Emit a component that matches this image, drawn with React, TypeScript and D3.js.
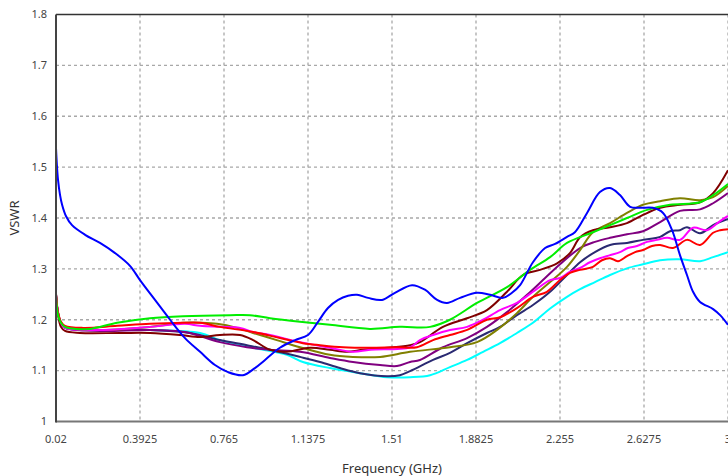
import React from "react";
import * as d3 from "d3";

const xTicks = [0.02, 0.3925, 0.765, 1.1375, 1.51, 1.8825, 2.255, 2.6275, 3];
const xTickLabels = ["0.02", "0.3925", "0.765", "1.1375", "1.51", "1.8825", "2.255", "2.6275", "3"];
const yTicks = [1, 1.1, 1.2, 1.3, 1.4, 1.5, 1.6, 1.7, 1.8];
const yTickLabels = ["1", "1.1", "1.2", "1.3", "1.4", "1.5", "1.6", "1.7", "1.8"];

type P = [number, number];

const blue: P[] = [
  [0.02, 1.538], [0.024, 1.504], [0.029, 1.475], [0.038, 1.445], [0.047, 1.426], [0.064, 1.404],
  [0.091, 1.386], [0.149, 1.367], [0.215, 1.351], [0.282, 1.331], [0.348, 1.306], [0.3925, 1.278],
  [0.459, 1.239], [0.526, 1.2], [0.592, 1.164], [0.659, 1.137], [0.725, 1.111], [0.783, 1.097],
  [0.849, 1.091], [0.902, 1.105], [0.947, 1.121], [1.013, 1.145], [1.08, 1.16], [1.1375, 1.17],
  [1.182, 1.196], [1.226, 1.223], [1.271, 1.239], [1.315, 1.247], [1.355, 1.249], [1.404, 1.243],
  [1.466, 1.239], [1.523, 1.253], [1.599, 1.268], [1.656, 1.259], [1.71, 1.239], [1.754, 1.233],
  [1.812, 1.243], [1.887, 1.253], [1.945, 1.249], [2.002, 1.243], [2.042, 1.253], [2.078, 1.268],
  [2.135, 1.313], [2.189, 1.341], [2.233, 1.349], [2.286, 1.363], [2.321, 1.372], [2.375, 1.41],
  [2.432, 1.451], [2.477, 1.459], [2.521, 1.445], [2.566, 1.422], [2.61, 1.42], [2.667, 1.42],
  [2.712, 1.41], [2.752, 1.376], [2.787, 1.327], [2.818, 1.288], [2.845, 1.255], [2.876, 1.235],
  [2.934, 1.221], [2.965, 1.209], [3.0, 1.19],
];

const green: P[] = [
  [0.02, 1.247], [0.029, 1.209], [0.042, 1.194], [0.06, 1.186], [0.104, 1.182], [0.171, 1.182],
  [0.291, 1.194], [0.437, 1.203], [0.583, 1.207], [0.792, 1.209], [0.88, 1.209], [0.969, 1.203],
  [1.102, 1.196], [1.235, 1.19], [1.412, 1.182], [1.545, 1.186], [1.679, 1.186], [1.767, 1.2],
  [1.887, 1.233], [2.02, 1.264], [2.122, 1.298], [2.211, 1.323], [2.286, 1.351], [2.401, 1.372],
  [2.552, 1.4], [2.641, 1.416], [2.743, 1.426], [2.876, 1.431], [2.934, 1.445], [3.0, 1.467],
];

const red: P[] = [
  [0.02, 1.249], [0.029, 1.215], [0.042, 1.196], [0.06, 1.188], [0.14, 1.184], [0.291, 1.188],
  [0.437, 1.192], [0.583, 1.194], [0.659, 1.194], [0.747, 1.186], [0.894, 1.176], [1.013, 1.164],
  [1.115, 1.154], [1.191, 1.15], [1.293, 1.146], [1.412, 1.145], [1.532, 1.146], [1.621, 1.146],
  [1.692, 1.16], [1.767, 1.17], [1.843, 1.18], [1.931, 1.2], [1.989, 1.205], [2.064, 1.223],
  [2.135, 1.245], [2.197, 1.255], [2.255, 1.278], [2.299, 1.292], [2.344, 1.298], [2.401, 1.304],
  [2.441, 1.317], [2.477, 1.321], [2.512, 1.315], [2.552, 1.325], [2.588, 1.333], [2.623, 1.337],
  [2.663, 1.345], [2.699, 1.347], [2.756, 1.341], [2.818, 1.357], [2.876, 1.347], [2.934, 1.371],
  [2.965, 1.376], [3.0, 1.378],
];

const magenta: P[] = [
  [0.02, 1.249], [0.029, 1.213], [0.042, 1.194], [0.06, 1.184], [0.215, 1.18], [0.437, 1.186],
  [0.592, 1.192], [0.659, 1.188], [0.747, 1.186], [0.836, 1.184], [0.894, 1.176], [0.969, 1.17],
  [1.102, 1.156], [1.235, 1.145], [1.337, 1.137], [1.412, 1.141], [1.59, 1.146], [1.634, 1.16],
  [1.692, 1.17], [1.767, 1.18], [1.843, 1.186], [1.914, 1.2], [1.989, 1.219], [2.064, 1.233],
  [2.135, 1.255], [2.211, 1.278], [2.255, 1.282], [2.299, 1.294], [2.344, 1.302], [2.388, 1.313],
  [2.432, 1.321], [2.477, 1.327], [2.521, 1.333], [2.556, 1.341], [2.596, 1.345], [2.641, 1.353],
  [2.685, 1.357], [2.73, 1.361], [2.787, 1.357], [2.845, 1.381], [2.907, 1.376], [2.965, 1.394],
  [3.0, 1.404],
];

const olive: P[] = [
  [0.02, 1.249], [0.029, 1.213], [0.042, 1.194], [0.06, 1.186], [0.215, 1.18], [0.437, 1.186],
  [0.583, 1.194], [0.659, 1.194], [0.734, 1.192], [0.823, 1.184], [0.894, 1.174], [0.999, 1.16],
  [1.102, 1.146], [1.235, 1.131], [1.337, 1.127], [1.457, 1.127], [1.59, 1.137], [1.767, 1.146],
  [1.887, 1.156], [1.976, 1.18], [2.064, 1.213], [2.135, 1.245], [2.211, 1.274], [2.286, 1.304],
  [2.344, 1.337], [2.401, 1.372], [2.477, 1.39], [2.552, 1.41], [2.623, 1.426], [2.699, 1.433],
  [2.787, 1.439], [2.876, 1.435], [2.934, 1.441], [3.0, 1.463],
];

const maroon: P[] = [
  [0.02, 1.252], [0.029, 1.209], [0.042, 1.186], [0.06, 1.178], [0.126, 1.174], [0.304, 1.174],
  [0.437, 1.174], [0.57, 1.17], [0.659, 1.166], [0.747, 1.17], [0.836, 1.17], [0.894, 1.16],
  [0.969, 1.141], [1.044, 1.137], [1.146, 1.145], [1.235, 1.141], [1.311, 1.137], [1.382, 1.141],
  [1.488, 1.145], [1.59, 1.15], [1.634, 1.156], [1.736, 1.186], [1.843, 1.203], [1.931, 1.219],
  [2.02, 1.255], [2.091, 1.288], [2.166, 1.298], [2.242, 1.311], [2.299, 1.331], [2.344, 1.362],
  [2.401, 1.376], [2.477, 1.382], [2.552, 1.39], [2.623, 1.406], [2.699, 1.42], [2.787, 1.426],
  [2.876, 1.431], [2.934, 1.449], [3.0, 1.494],
];

const purple: P[] = [
  [0.02, 1.249], [0.029, 1.213], [0.042, 1.194], [0.06, 1.184], [0.215, 1.178], [0.437, 1.18],
  [0.592, 1.176], [0.659, 1.168], [0.747, 1.156], [0.867, 1.146], [0.969, 1.141], [1.102, 1.137],
  [1.235, 1.125], [1.337, 1.117], [1.457, 1.111], [1.532, 1.109], [1.59, 1.117], [1.634, 1.121],
  [1.736, 1.146], [1.843, 1.164], [1.931, 1.186], [2.02, 1.215], [2.109, 1.249], [2.189, 1.282],
  [2.255, 1.309], [2.344, 1.341], [2.41, 1.353], [2.477, 1.361], [2.552, 1.368], [2.623, 1.374],
  [2.699, 1.392], [2.787, 1.414], [2.876, 1.417], [2.934, 1.429], [3.0, 1.449],
];

const navy: P[] = [
  [0.02, 1.249], [0.029, 1.213], [0.042, 1.194], [0.06, 1.184], [0.215, 1.18], [0.437, 1.18],
  [0.614, 1.174], [0.747, 1.16], [0.867, 1.15], [0.969, 1.141], [1.102, 1.127], [1.191, 1.117],
  [1.279, 1.105], [1.368, 1.095], [1.488, 1.089], [1.545, 1.091], [1.59, 1.099], [1.692, 1.121],
  [1.767, 1.135], [1.843, 1.154], [1.931, 1.174], [1.989, 1.186], [2.064, 1.209], [2.135, 1.229],
  [2.211, 1.255], [2.286, 1.288], [2.344, 1.313], [2.41, 1.333], [2.477, 1.347], [2.552, 1.351],
  [2.623, 1.357], [2.699, 1.363], [2.743, 1.374], [2.787, 1.376], [2.818, 1.382], [2.876, 1.37],
  [2.934, 1.386], [3.0, 1.398],
];

const cyan: P[] = [
  [0.02, 1.249], [0.029, 1.213], [0.042, 1.194], [0.06, 1.184], [0.215, 1.18], [0.437, 1.18],
  [0.659, 1.174], [0.747, 1.16], [0.894, 1.145], [1.044, 1.131], [1.115, 1.117], [1.235, 1.105],
  [1.368, 1.095], [1.488, 1.087], [1.59, 1.087], [1.679, 1.091], [1.767, 1.107], [1.843, 1.121],
  [1.914, 1.137], [1.989, 1.154], [2.064, 1.174], [2.135, 1.194], [2.211, 1.222], [2.286, 1.245],
  [2.344, 1.26], [2.41, 1.274], [2.477, 1.288], [2.552, 1.301], [2.623, 1.309], [2.699, 1.317],
  [2.787, 1.319], [2.876, 1.315], [2.934, 1.323], [3.0, 1.333],
];

const seriesList: { name: string; color: string; data: P[] }[] = [
  { name: "cyan", color: "#00ffff", data: cyan },
  { name: "navy", color: "#2a2a72", data: navy },
  { name: "purple", color: "#800080", data: purple },
  { name: "olive", color: "#808000", data: olive },
  { name: "maroon", color: "#800000", data: maroon },
  { name: "magenta", color: "#ff00ff", data: magenta },
  { name: "red", color: "#ff0000", data: red },
  { name: "green", color: "#00ee00", data: green },
  { name: "blue", color: "#0000ff", data: blue },
];

const W = 728;
const H = 476;
const left = 56;
const right = 728;
const top = 14.5;
const bottom = 421.5;

export default function App() {
  const x = d3.scaleLinear().domain([0.02, 3]).range([left, right]);
  const y = d3.scaleLinear().domain([1, 1.8]).range([bottom, top]);
  const line = d3
    .line<P>()
    .x((d) => x(d[0]))
    .y((d) => y(d[1]))
    .curve(d3.curveCatmullRom.alpha(0.5));
  const font = "'Noto Sans', 'Open Sans', sans-serif";
  return (
    <svg
      width={W}
      height={H}
      style={{ position: "absolute", left: 0, top: 0, background: "#fff" }}
    >
      <defs>
        <clipPath id="plot">
          <rect x={left} y={top - 2} width={right - left + 10} height={bottom - top + 4} />
        </clipPath>
      </defs>
      {xTicks.slice(1).map((t) => (
        <line
          key={"gx" + t}
          x1={x(t)}
          x2={x(t)}
          y1={top}
          y2={bottom}
          stroke="#a8a8a8"
          strokeWidth={1.3}
          strokeDasharray="3,3"
        />
      ))}
      {yTicks.slice(1, -1).map((t) => (
        <line
          key={"gy" + t}
          x1={left}
          x2={W}
          y1={y(t)}
          y2={y(t)}
          stroke="#a8a8a8"
          strokeWidth={1.3}
          strokeDasharray="3,3"
        />
      ))}
      <g clipPath="url(#plot)">
        {seriesList.map((s) => (
          <path
            key={s.name}
            d={line(s.data) || ""}
            fill="none"
            stroke={s.color}
            strokeWidth={2}
            strokeLinejoin="round"
          />
        ))}
      </g>
      <line x1={left} x2={W} y1={top} y2={top} stroke="#333" strokeWidth={1.5} />
      <line x1={left} x2={W} y1={bottom} y2={bottom} stroke="#777" strokeWidth={2} />
      <line x1={left} x2={left} y1={top} y2={bottom + 1} stroke="#444" strokeWidth={2} />
      {yTicks.map((t, i) => (
        <text
          key={"yl" + t}
          x={47}
          y={y(t)}
          dy="0.35em"
          textAnchor="end"
          fontFamily={font}
          fontSize={11}
          fill="#444"
        >
          {yTickLabels[i]}
        </text>
      ))}
      {xTicks.map((t, i) => (
        <text
          key={"xl" + t}
          x={x(t)}
          y={439}
          dy="0.35em"
          textAnchor="middle"
          fontFamily={font}
          fontSize={11}
          fill="#444"
        >
          {xTickLabels[i]}
        </text>
      ))}
      <text
        x={(left + right) / 2}
        y={468}
        dy="0.35em"
        textAnchor="middle"
        fontFamily={font}
        fontSize={13}
        fill="#333"
      >
        Frequency (GHz)
      </text>
      <text
        transform={`translate(14, ${(top + bottom) / 2}) rotate(-90)`}
        dy="0.35em"
        textAnchor="middle"
        fontFamily={font}
        fontSize={13}
        fill="#333"
      >
        VSWR
      </text>
    </svg>
  );
}
